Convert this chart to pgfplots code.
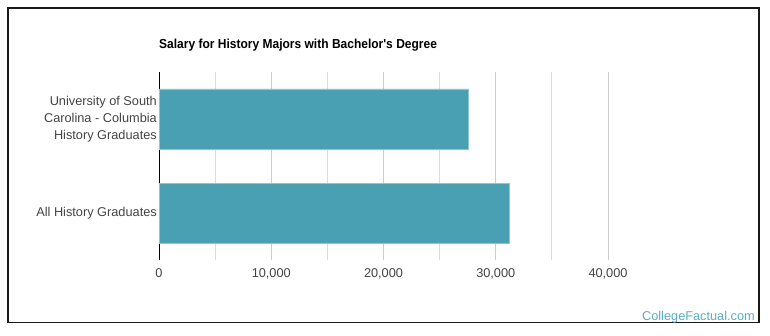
\documentclass[border=0pt]{standalone}
\usepackage{pgfplots}
\pgfplotsset{compat=1.18}
\usepackage{fontspec}
\setmainfont{Liberation Sans}
\newfontfamily\titlefont[FakeStretch=0.92]{Liberation Sans}
\definecolor{barc}{HTML}{4AA0B3}
\definecolor{baredge}{HTML}{8CC6D2}
\definecolor{gridc}{HTML}{CCCCCC}
\definecolor{txt}{HTML}{444444}
\definecolor{wm}{HTML}{5AAFC2}
\begin{document}
\begin{tikzpicture}[x=1bp,y=1bp]
\path[use as bounding box] (0,0) rectangle (770,335);
\fill[white] (0,0) rectangle (770,335);
\draw[line width=1.3bp, black!90] (8,12.5) rectangle (759,327);
\node[anchor=west, inner sep=0pt] at (159,290) {\titlefont\fontsize{13.1}{15}\selectfont\bfseries Salary for History Majors with Bachelor's Degree};
\node[anchor=east, inner sep=0pt, text=wm] at (755,18) {\fontsize{12.8}{14}\selectfont CollegeFactual.com};
\begin{axis}[
  at={(159bp,75bp)}, anchor=south west,
  scale only axis, width=449bp, height=188bp,
  xbar, bar width=60bp,
  xmin=0, xmax=40000, ymin=-0.5, ymax=1.5,
  axis lines*=left,
  x axis line style={draw=none},
  y axis line style={black, line width=0.9bp},
  xtick={0,10000,20000,30000,40000},
  minor xtick={5000,15000,25000,35000},
  xmajorgrids, xminorgrids,
  grid style={gridc, line width=0.8bp},
  minor grid style={gridc!70, line width=0.8bp},
  major tick length=0pt, minor tick length=0pt,
  ytick={0,1},
  yticklabels={All History Graduates,{University of South\\Carolina - Columbia\\History Graduates}},
  yticklabel style={align=right, font=\fontsize{12.8}{17}\selectfont, text=txt, inner xsep=2bp},
  xticklabel style={font=\fontsize{12.8}{14}\selectfont, text=txt, yshift=-5bp},
  /pgf/number format/assume math mode=true,
  /pgf/number format/1000 sep={,},
  scaled x ticks=false,
  clip=false,
]
\addplot[fill=barc, draw=baredge, line width=0.8bp] coordinates {(31200,0) (27600,1)};
\end{axis}
\end{tikzpicture}
\end{document}
